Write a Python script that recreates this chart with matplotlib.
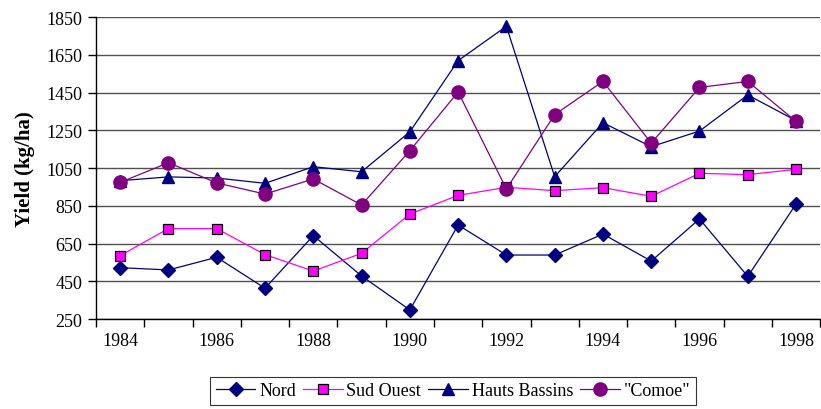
import matplotlib
matplotlib.use("Agg")
import matplotlib.pyplot as plt
import numpy as np

years = [1984, 1985, 1986, 1987, 1988, 1989, 1990, 1991, 1992, 1993, 1994, 1995, 1996, 1997, 1998]
nord = [522, 510, 577, 413, 692, 478, 298, 748, 589, 589, 700, 557, 780, 476, 859]
sud_ouest = [586, 729, 729, 591, 504, 598, 806, 905, 948, 930, 946, 900, 1022, 1015, 1043]
hauts_bassins = [983, 1003, 997, 969, 1057, 1030, 1242, 1619, 1801, 1004, 1290, 1163, 1246, 1437, 1301]
comoe = [974, 1078, 971, 912, 992, 854, 1142, 1453, 939, 1333, 1509, 1182, 1477, 1509, 1297]

plt.rcParams["font.family"] = ["Liberation Serif", "DejaVu Serif"]

fig = plt.figure(figsize=(8.21, 4.10), dpi=100)
ax = fig.add_axes([0.117, 0.2195, 0.882, 0.7365])

x = np.arange(len(years))
#draw series, same order as legend
ax.plot(x, nord, color="#000080", lw=0.9, marker="D", ms=7.5,
        mfc="#000080", mec="#000080", label="Nord", zorder=3)
ax.plot(x, sud_ouest, color="#FF00FF", lw=0.9, marker="s", ms=7.5,
        mfc="#FF00FF", mec="black", mew=0.9, label="Sud Ouest", zorder=3)
ax.plot(x, hauts_bassins, color="#000080", lw=0.9, marker="^", ms=9,
        mfc="#000080", mec="#000080", label="Hauts Bassins", zorder=3)
ax.plot(x, comoe, color="#800080", lw=0.9, marker="o", ms=9.5,
        mfc="#800080", mec="#800080", label='"Comoe"', zorder=4)

ax.set_ylim(250, 1850)
ax.set_yticks(np.arange(250, 1851, 200))
ax.set_xlim(-0.5, len(years) - 0.5)
#category axis: tick marks between categories, labels every second year
ax.set_xticks(np.arange(-0.5, len(years), 1.0))
ax.set_xticklabels([])
ax.set_xticks(x[::2], minor=True)
ax.set_xticklabels([str(y) for y in years[::2]], minor=True)
ax.tick_params(axis="x", which="major", direction="out", length=6, width=1, color="black")
ax.tick_params(axis="x", which="minor", length=0, pad=9, labelsize=13)
ax.tick_params(axis="y", direction="out", length=6, width=1, labelsize=13, pad=4)

ax.grid(axis="y", color="#505050", lw=1)
ax.set_axisbelow(True)
for s in ["top", "right"]:
    ax.spines[s].set_visible(False)
ax.spines["left"].set_linewidth(1)
ax.spines["bottom"].set_linewidth(1)

ax.set_ylabel("Yield (kg/ha)", fontsize=15, fontweight="bold", labelpad=8)

leg = fig.legend(loc="center", bbox_to_anchor=(453 / 821, 1 - 392 / 410), ncol=4,
                 frameon=True, fancybox=False, edgecolor="black",
                 prop={"family": "Liberation Serif", "size": 13},
                 handlelength=2.2, columnspacing=0.4, handletextpad=0.2,
                 borderpad=0.3, borderaxespad=0)
leg.get_frame().set_linewidth(0.8)

fig.savefig("out.png", dpi=100)
